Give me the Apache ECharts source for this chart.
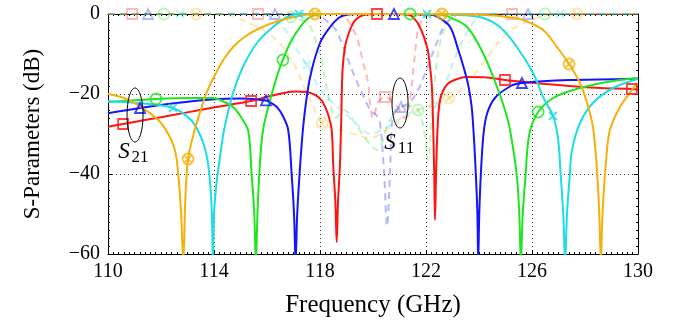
<!DOCTYPE html>
<html>
<head>
<meta charset="utf-8">
<script src="https://cdn.jsdelivr.net/npm/echarts@6/dist/echarts.min.js"></script>
<style>
html, body { margin: 0; padding: 0; background: #fff; }
#chart { width: 673px; height: 324px; }
</style>
</head>
<body>
<div id="chart"></div>
<script>
// frequency axis (GHz) and S-parameter axis (dB)
const xTicks = [110, 114, 118, 122, 126, 130]
const yTicks = [-60, -40, -20, 0]

// S21 curves, [GHz, dB]
const redS21 = [[110,-28.2],[110.57,-27.5],[111.5,-26.4],[112.5,-25.2],[113.47,-24],[114.5,-22.8],[115.4,-21.75],[116,-20.7],[116.6,-19.8],[117.1,-19.4],[117.5,-19.5],[117.9,-20.6],[118.1,-22],[118.3,-25],[118.44,-29],[118.5,-38],[118.58,-47],[118.63,-57],[118.68,-47],[118.75,-38],[118.8,-27],[118.85,-14],[118.95,-8],[119.13,-4],[119.3,-1.8],[119.51,-0.6],[119.75,-0.1],[120.15,0],[121,0],[121.35,-0.2],[121.51,-0.8],[121.77,-3.25],[122.04,-8.25],[122.15,-13],[122.22,-18],[122.27,-28],[122.31,-40],[122.34,-51.5],[122.38,-40],[122.44,-28],[122.53,-21.5],[122.7,-18.5],[122.91,-17],[123.55,-15.75],[124.2,-15.8],[124.98,-16.5],[126,-17.2],[127.4,-18],[128.6,-18.5],[129.77,-18.75],[130,-18.9]]
const blueS21 = [[110,-24.8],[111.21,-23.5],[112.5,-22.3],[114,-21.3],[115,-21.1],[115.96,-21.6],[116.2,-22.4],[116.38,-23.3],[116.6,-25.5],[116.8,-29],[116.93,-40],[117.02,-50],[117.08,-62],[117.14,-50],[117.27,-36],[117.4,-26],[117.62,-16],[118,-7.25],[118.38,-3.25],[118.7,-1],[119,-0.2],[119.4,0],[120.79,0],[122.2,-0.2],[122.5,-1],[122.91,-3.25],[123.22,-9],[123.45,-14],[123.6,-18],[123.72,-23],[123.8,-30],[123.88,-40],[123.94,-50],[123.97,-62],[124.01,-50],[124.07,-40],[124.17,-30],[124.3,-25],[124.6,-21],[125.2,-18],[125.62,-17.25],[126.4,-16.8],[127.43,-16.5],[128.5,-16.4],[130,-16.2]]
const greenS21 = [[110,-22],[111.81,-21.25],[113.2,-21],[114,-21],[114.23,-21.5],[114.72,-23.25],[115.09,-26.5],[115.3,-29.5],[115.42,-40],[115.52,-50],[115.58,-62],[115.64,-50],[115.71,-40],[115.85,-29],[116.19,-19.75],[116.49,-13.25],[116.6,-11.5],[116.87,-7.25],[117.25,-3.25],[117.5,-1.4],[117.74,-0.4],[118.2,0],[121.4,0],[122.6,-0.2],[122.95,-1],[123.55,-3.25],[124.15,-9.75],[124.68,-18.25],[124.98,-24],[125.17,-29],[125.42,-40],[125.52,-50],[125.58,-62],[125.65,-50],[125.76,-40],[125.9,-30],[126.23,-24.5],[126.8,-21],[127.55,-19],[128.83,-17],[130,-16]]
const cyanS21 = [[110,-21.8],[111.09,-22.25],[112.45,-23.5],[113.13,-26.5],[113.51,-30.75],[113.74,-36],[113.85,-42],[113.92,-50],[113.96,-62],[114,-50],[114.1,-42],[114.2,-37],[114.38,-29],[114.72,-19.75],[115.09,-13.25],[115.62,-7.25],[116.23,-3.25],[116.7,-1],[117.21,0],[122.04,0],[123.4,-0.3],[124.15,-1],[124.79,-3.25],[125.43,-8.25],[126.04,-14.75],[126.42,-20.75],[126.79,-25.5],[126.98,-31],[127.08,-40],[127.18,-50],[127.25,-62],[127.32,-50],[127.43,-40],[127.51,-34],[127.81,-27.25],[128.3,-22.25],[129.06,-18.5],[130,-16.25]]
const orangeS21 = [[110,-20],[110.6,-21],[111.25,-23.25],[112,-27.25],[112.49,-33.25],[112.65,-40],[112.76,-50],[112.84,-62],[112.92,-46],[113.02,-36.25],[113.25,-29.5],[113.5,-24],[113.7,-20],[114,-15.7],[114.35,-11.5],[114.72,-8.25],[115.2,-5.5],[115.74,-3.5],[116.4,-1.8],[116.98,-0.8],[117.81,0],[122.6,0],[124.4,-0.3],[125,-0.7],[125.66,-1.5],[126.42,-4],[126.94,-8.25],[127.4,-12.5],[127.81,-17.25],[128.08,-22.25],[128.3,-28.25],[128.44,-38],[128.54,-50],[128.6,-62],[128.66,-50],[128.78,-38],[128.94,-29],[129.32,-23.25],[129.77,-19],[129.96,-17.25]]

// S11 curves (dashed), [GHz, dB]
const redS11 = [[110,0],[118.6,0],[118.9,-0.5],[119.1,-2],[119.3,-4.5],[119.43,-6.5],[119.62,-12],[119.81,-17],[119.9,-23],[120,-26],[120.2,-22],[120.45,-20.75],[120.9,-23],[121.2,-26],[121.4,-21],[121.55,-12],[121.7,-4],[121.9,-1],[122.2,0],[130,0]]
const blueS11 = [[110,0],[117.8,0],[118,-0.5],[118.3,-2],[118.6,-4],[119,-10.5],[119.3,-15.5],[119.6,-20],[119.9,-24],[120.15,-25.5],[120.26,-27],[120.42,-40],[120.53,-53],[120.64,-40],[120.72,-27],[120.85,-24],[121.06,-23.25],[121.4,-22],[121.7,-19],[121.9,-16],[122.1,-12.5],[122.45,-6.5],[122.7,-2.75],[123,-0.75],[123.3,0],[130,0]]
const greenS11 = [[110,0],[116.5,0],[116.9,-0.75],[117.3,-1.5],[117.62,-3],[117.9,-8],[118.1,-13],[118.3,-20],[118.6,-26],[118.9,-24],[119.3,-27],[119.7,-31],[120.15,-34],[120.6,-27],[121,-23.5],[121.4,-23],[121.7,-24],[121.9,-28],[122.08,-36.5],[122.2,-27],[122.35,-15],[122.53,-7.25],[122.75,-3],[123,-0.75],[123.3,0],[130,0]]
const cyanS11 = [[110,0],[115.7,0],[116.2,-1],[116.7,-4],[117.13,-9],[117.51,-12.75],[117.74,-15.75],[118,-19],[118.38,-21.5],[118.8,-24],[119.3,-27],[119.9,-30],[120.6,-28],[121.3,-25],[121.9,-23.5],[122.42,-22.75],[122.6,-20],[123.17,-9.75],[123.77,-2.25],[124.15,-0.5],[124.5,0],[130,0]]
const orangeS11 = [[110,0],[114.3,0],[114.8,-0.75],[115.4,-2.5],[116,-4.5],[116.5,-7.5],[117,-12.25],[117.5,-19.75],[118.08,-27.25],[118.38,-28.25],[119.13,-29.75],[119.89,-31],[120.5,-29],[121.2,-26],[121.9,-23.5],[122.87,-21],[123.3,-19],[123.77,-15.75],[124.42,-9.75],[125.06,-4.75],[125.66,-2.25],[126.3,-0.75],[127,0],[130,0]]

// mark positions on the curves
const redS21Marks = [[110.57,-27.5],[115.4,-21.75],[120.15,0],[124.98,-16.5],[129.77,-18.75]]
const blueS21Marks = [[111.21,-23.5],[115.96,-21.6],[120.79,0],[125.62,-17.25]]
const greenS21Marks = [[111.81,-21.25],[116.6,-11.5],[121.4,0],[126.23,-24.5]]
const cyanS21Marks = [[112.45,-23.5],[117.21,0],[122.04,0],[126.79,-25.5]]
const orangeS21Marks = [[113.02,-36.25],[117.81,0],[122.6,0],[127.4,-12.5]]
const redS11Marks = [[110.91,0],[115.66,0],[120.45,-20.75],[125.25,0]]
const blueS11Marks = [[111.51,0],[116.3,0],[121.06,-23.25],[125.85,0]]
const greenS11Marks = [[112.11,0],[116.9,-0.75],[121.7,-24],[126.49,0]]
const cyanS11Marks = [[112.72,0],[117.51,-12.75],[122.42,-22.75],[127.06,0]]
const orangeS11Marks = [[113.32,0],[118.08,-27.25],[122.87,-21],[127.7,0]]

const font = 'Liberation Serif'
const crossPath = 'path://M0 0L10 10M10 0L0 10'
const otimesPath = 'path://M10 5A5 5 0 1 1 0 5A5 5 0 1 1 10 5ZM1.5 1.5L8.5 8.5M8.5 1.5L1.5 8.5'

const filters = [
  { color: '#ff1414', s21: redS21, s11: redS11, m21: redS21Marks, m11: redS11Marks, symbol: 'rect', size: 10 },
  { color: '#1414ff', s21: blueS21, s11: blueS11, m21: blueS21Marks, m11: blueS11Marks, symbol: 'triangle', size: 10 },
  { color: '#1ee61e', s21: greenS21, s11: greenS11, m21: greenS21Marks, m11: greenS11Marks, symbol: 'circle', size: 11 },
  { color: '#1edce6', s21: cyanS21, s11: cyanS11, m21: cyanS21Marks, m11: cyanS11Marks, symbol: crossPath, size: 8 },
  { color: '#f5b00a', s21: orangeS21, s11: orangeS11, m21: orangeS21Marks, m11: orangeS11Marks, symbol: otimesPath, size: 11 }
]

let series = []
// dashed S11 first, faded
filters.forEach((f) => {
  series.push({
    type: 'line', data: f.s11, smooth: 0.35, symbol: 'none', z: 1,
    lineStyle: { color: f.color, width: 2, type: [7, 5], opacity: 0.3 }
  })
  series.push({
    type: 'scatter', data: f.m11, symbol: f.symbol, symbolSize: f.size, z: 2, clip: false,
    itemStyle: { color: 'rgba(0,0,0,0)', borderColor: f.color, borderWidth: 1.8, opacity: 0.3 }
  })
})
filters.forEach((f) => {
  series.push({
    type: 'line', data: f.s21, smooth: 0.35, symbol: 'none', z: 3,
    lineStyle: { color: f.color, width: 2 }
  })
})
filters.forEach((f) => {
  series.push({
    type: 'scatter', data: f.m21, symbol: f.symbol, symbolSize: f.size, z: 4, clip: false,
    itemStyle: { color: 'rgba(0,0,0,0)', borderColor: f.color, borderWidth: 1.8 }
  })
})

// box axes with inward ticks on all four sides
function frame(minor) {
  return {
    axisLine: { show: true, onZero: false, lineStyle: { color: '#000', width: 1 } },
    axisTick: { show: true, inside: true, length: 4, lineStyle: { color: '#000' } },
    minorTick: { show: true, splitNumber: minor, length: 2, lineStyle: { color: '#000' } }
  }
}

const option = {
  animation: false,
  grid: { left: 108, right: 35, top: 14, bottom: 70, show: false },
  xAxis: [
    Object.assign({
      type: 'value', min: xTicks[0], max: xTicks[xTicks.length - 1], interval: 4,
      name: 'Frequency (GHz)', nameLocation: 'middle', nameGap: 39,
      nameTextStyle: { fontFamily: font, fontSize: 25, color: '#000' },
      axisLabel: { fontFamily: font, fontSize: 20, color: '#000', margin: 8 },
      splitLine: { show: true, lineStyle: { color: '#333', width: 1, type: [1, 3] } }
    }, frame(20)),
    Object.assign({
      type: 'value', position: 'top', min: 110, max: 130, interval: 4,
      axisLabel: { show: false }, splitLine: { show: false }
    }, frame(20))
  ],
  yAxis: [
    Object.assign({
      type: 'value', min: yTicks[0], max: yTicks[yTicks.length - 1], interval: 20,
      name: 'S-Parameters (dB)', nameLocation: 'middle', nameGap: 64,
      nameTextStyle: { fontFamily: font, fontSize: 23, color: '#000' },
      axisLabel: { fontFamily: font, fontSize: 20, color: '#000', margin: 8,
        formatter: (v) => (v < 0 ? '\u2212' + Math.abs(v) : String(v)) },
      splitLine: { show: true, lineStyle: { color: '#333', width: 1, type: [1, 3] } }
    }, frame(10)),
    Object.assign({
      type: 'value', position: 'right', min: -60, max: 0, interval: 20,
      axisLabel: { show: false }, splitLine: { show: false }
    }, frame(10))
  ],
  series: series
}

const chart = echarts.init(document.getElementById('chart'))
chart.setOption(option)

// annotation ellipses and labels
const px = (f, db) => chart.convertToPixel({ xAxisIndex: 0, yAxisIndex: 0 }, [f, db])
const a21 = px(111.02, -25.25)
const a11 = px(121.02, -22.25)
function label(cx, cy, sub) {
  return [
    { type: 'text', z: 100, style: { text: 'S', x: cx - 9, y: cy, font: 'italic 23px ' + font, fill: '#000', verticalAlign: 'middle', align: 'center' } },
    { type: 'text', z: 100, style: { text: sub, x: cx + 7, y: cy + 6, font: '17px ' + font, fill: '#000', verticalAlign: 'middle', align: 'center' } }
  ]
}
chart.setOption({
  graphic: [
    { type: 'ellipse', z: 100, shape: { cx: a21[0], cy: a21[1], rx: 8, ry: 27 }, style: { fill: 'none', stroke: '#000', lineWidth: 1 } },
    { type: 'ellipse', z: 100, shape: { cx: a11[0], cy: a11[1], rx: 8, ry: 25 }, style: { fill: 'none', stroke: '#000', lineWidth: 1 } }
  ].concat(label(a21[0] - 2, a21[1] + 37, '21'), label(a11[0] - 1, a11[1] + 40, '11'))
})
</script>
</body>
</html>
